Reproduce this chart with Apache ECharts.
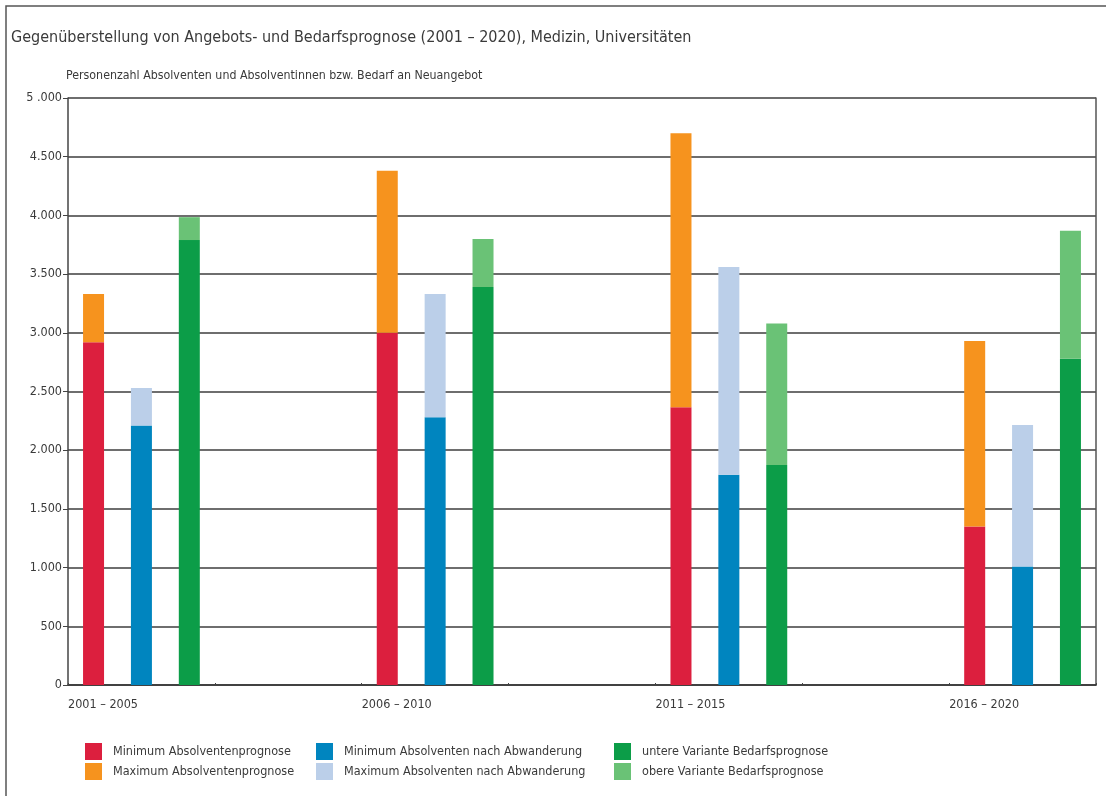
<!DOCTYPE html>
<html>
<head>
<meta charset="utf-8">
<script src="https://cdn.jsdelivr.net/npm/echarts@6/dist/echarts.min.js"></script>
<style>
html,body{margin:0;padding:0;background:#fff;}
#chart{width:1106px;height:796px;}
</style>
</head>
<body>
<div id="chart"></div>
<script>
// Category slots (7 bands; empty bands between the periods)
const categories = ['2001 – 2005', '', '2006 – 2010', '', '2011 – 2015', '', '2016 – 2020'];
// Tick labels for the x axis (boundary positions)
const xTickLabels = ['2001 – 2005', '', '2006 – 2010', '', '2011 – 2015', '', '2016 – 2020', ''];
const yTickLabels = ['0', '500', '1.000', '1.500', '2.000', '2.500', '3.000', '3.500', '4.000', '4.500', '5 .000'];

const minAbsolventen   = [2920, null, 3000, null, 2365, null, 1350];
const maxAbsolventen   = [3330, null, 4380, null, 4700, null, 2930];
const minAbwanderung   = [2210, null, 2280, null, 1790, null, 1010];
const maxAbwanderung   = [2530, null, 3330, null, 3560, null, 2215];
const untereVariante   = [3790, null, 3390, null, 1875, null, 2780];
const obereVariante    = [3985, null, 3800, null, 3080, null, 3870];

const names = [
  'Minimum Absolventenprognose', 'Maximum Absolventenprognose',
  'Minimum Absolventen nach Abwanderung', 'Maximum Absolventen nach Abwanderung',
  'untere Variante Bedarfsprognose', 'obere Variante Bedarfsprognose'
];
const colors = ['#dc1f3e', '#f6931e', '#0085bf', '#bbcfe9', '#0c9d48', '#6ac276'];

function diff(hi, lo) { return hi.map((v, i) => v == null ? null : v - lo[i]); }

const FONT = '"Liberation Sans Narrow", "DejaVu Sans Condensed", "Roboto", sans-serif';
const TXT = '#3a3a3a';

const chart = echarts.init(document.getElementById('chart'));
const barCommon = { type: 'bar', barWidth: 21, barGap: '128%', xAxisIndex: 0 };

const legendCommon = {
  orient: 'vertical', itemWidth: 17, itemHeight: 17, itemGap: 3, icon: 'rect', padding: 0,
  textStyle: { fontFamily: FONT, fontSize: 12.5, color: TXT, padding: [4, 0, 0, 6] }
};

chart.setOption({
  animation: false,
  textStyle: { fontFamily: FONT },
  title: [
    { text: 'Gegenüberstellung von Angebots- und Bedarfsprognose (2001 – 2020), Medizin, Universitäten',
      left: 11, top: 30, padding: 0, textStyle: { fontFamily: FONT, fontSize: 16, fontWeight: 'normal', color: TXT } },
    { text: 'Personenzahl Absolventen und Absolventinnen bzw. Bedarf an Neuangebot',
      left: 66, top: 70, padding: 0, textStyle: { fontFamily: FONT, fontSize: 12.3, fontWeight: 'normal', color: TXT } }
  ],
  graphic: [
    { type: 'polyline', shape: { points: [[6, 796], [6, 6], [1106, 6]] },
      style: { stroke: '#555', lineWidth: 1.5, fill: null } }
  ],
  legend: [
    Object.assign({ left: 85, top: 743, data: [names[0], names[1]] }, legendCommon),
    Object.assign({ left: 316, top: 743, data: [names[2], names[3]] }, legendCommon),
    Object.assign({ left: 614, top: 743, data: [names[4], names[5]] }, legendCommon)
  ],
  grid: { left: 68, right: 10, top: 98, bottom: 111 },
  xAxis: [
    { type: 'category', data: categories, boundaryGap: true,
      axisLine: { lineStyle: { color: '#333', width: 1.5 } },
      axisTick: { show: true, inside: true, length: 2, lineStyle: { color: '#444' } },
      axisLabel: { show: false }, splitLine: { show: false } },
    { type: 'category', data: xTickLabels, boundaryGap: false, position: 'bottom',
      axisLine: { show: false }, axisTick: { show: false },
      axisLabel: { interval: 0, align: 'left', margin: 13, fontFamily: FONT, fontSize: 12.5, color: TXT } }
  ],
  yAxis: [
    { type: 'value', min: 0, max: 5000, interval: 500,
      axisLine: { show: true, lineStyle: { color: '#444', width: 1.5 } },
      axisTick: { show: true, length: 5, lineStyle: { color: '#444' } },
      axisLabel: { margin: 6, fontFamily: FONT, fontSize: 12.5, color: TXT,
        formatter: v => yTickLabels[Math.round(v / 500)] },
      splitLine: { lineStyle: { color: '#6e6e6e', width: 2 } } },
    { type: 'value', min: 0, max: 5000, interval: 500, position: 'right',
      axisLine: { show: true, lineStyle: { color: '#555', width: 1.5 } },
      axisTick: { show: false }, axisLabel: { show: false }, splitLine: { show: false } }
  ],
  series: [
    Object.assign({ name: names[0], stack: 'a', data: minAbsolventen, itemStyle: { color: colors[0] } }, barCommon),
    Object.assign({ name: names[1], stack: 'a', data: diff(maxAbsolventen, minAbsolventen), itemStyle: { color: colors[1] } }, barCommon),
    Object.assign({ name: names[2], stack: 'b', data: minAbwanderung, itemStyle: { color: colors[2] } }, barCommon),
    Object.assign({ name: names[3], stack: 'b', data: diff(maxAbwanderung, minAbwanderung), itemStyle: { color: colors[3] } }, barCommon),
    Object.assign({ name: names[4], stack: 'c', data: untereVariante, itemStyle: { color: colors[4] } }, barCommon),
    Object.assign({ name: names[5], stack: 'c', data: diff(obereVariante, untereVariante), itemStyle: { color: colors[5] } }, barCommon)
  ]
});
</script>
</body>
</html>
